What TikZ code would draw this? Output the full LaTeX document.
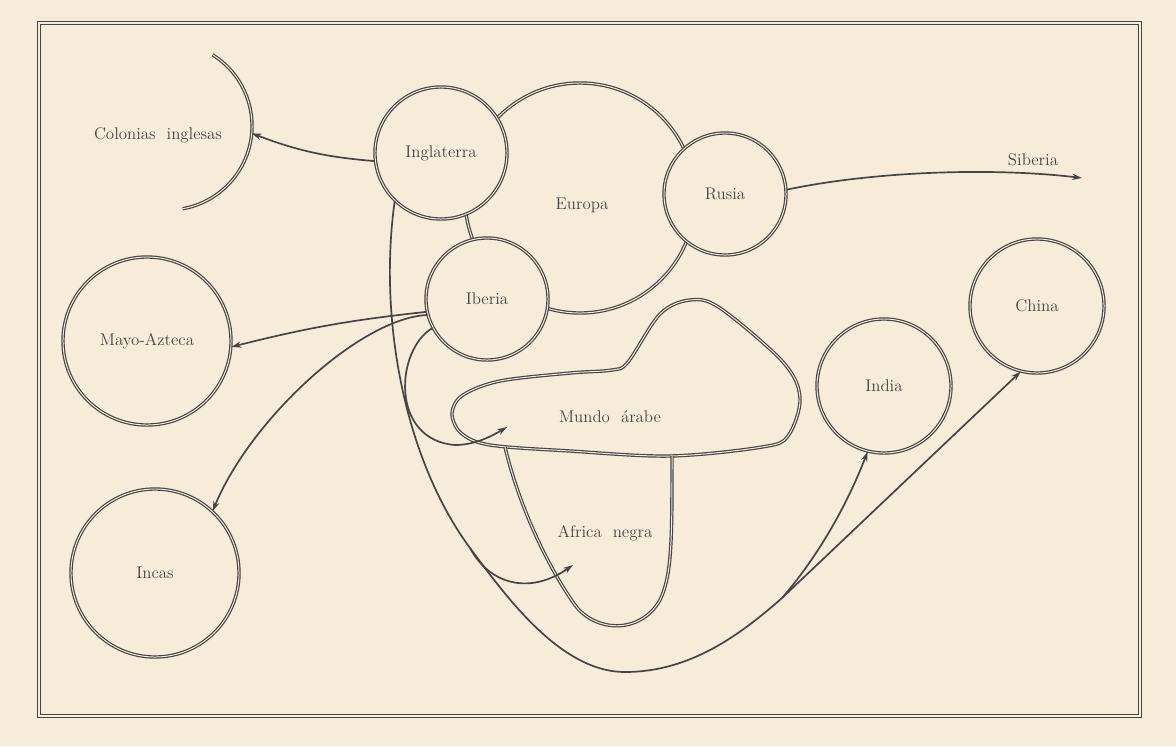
\documentclass[tikz,border=0pt]{standalone}
\usetikzlibrary{arrows.meta,calc}
\definecolor{paper}{HTML}{F7EBD9}
\definecolor{ink}{HTML}{454545}
\begin{document}
\begin{tikzpicture}[x=0.025cm,y=-0.025cm,
  dbl/.style={draw=ink, line width=0.85pt, double=paper, double distance=0.7pt},
  region/.style={dbl, circle, fill=paper, inner sep=0pt, font=\fontsize{12}{14}\selectfont, text=ink},
  conn/.style={draw=ink, line width=1.2pt},
  arr/.style={conn, -{Stealth[length=7pt,width=4.5pt]}},
  lbl/.style={font=\fontsize{12}{14}\selectfont, text=ink, inner sep=0pt}]
\fill[paper] (0,0) rectangle (1176,746);
\useasboundingbox (0,0) rectangle (1176,746);
% frame
\draw[draw=ink, line width=1.1pt, double=paper, double distance=1pt] (39,23) rectangle (1140,716);

% regions
\node[region, minimum size=5.75cm] (eur) at (580,198) {};
\node[lbl] (eurl) at (582,205) {Europa};
\node[region, minimum size=3.3cm] (ingl) at (441,153) {Inglaterra};
\node[region, minimum size=3.05cm] (rus) at (725,194) {Rusia};
\node[region, minimum size=3.05cm] (iber) at (487,299) {Iberia};
\node[region, minimum size=4.2cm] (maya) at (147,341) {Mayo-Azteca};
\node[region, minimum size=4.2cm] (inca) at (155,573) {Incas};
\node[region, minimum size=3.35cm] (india) at (884,386) {India};
\node[region, minimum size=3.35cm] (china) at (1037,306) {China};

% Colonias inglesas
\coordinate (col) at (168,126);
\draw[dbl] ([shift={(58:2.1cm)}]col) arc[start angle=58, end angle=-80, radius=2.1cm];
\coordinate (colEnd) at ([shift={(-5:2.1cm)}]col);
\node[lbl] (coll) at (158,135) {Colonias\ \ inglesas};

% Mundo arabe
\draw[dbl] plot[smooth cycle, tension=0.55] coordinates {(452,413) (463,395) (500,381) (570,373) (612,370) (628,362) (660,314) (690,300) (720,308) (783,362) (800,398) (788,436) (762,447) (670,456) (570,451) (490,445) (461,433)};
\node[lbl] (mundol) at (610,417) {Mundo\ \ árabe};
% Africa negra
\draw[dbl] (505,447) .. controls (520,510) and (550,570) .. (575,605) .. controls (595,632) and (640,635) .. (660,600) .. controls (672,575) and (672,540) .. (672,456);
\node[lbl] (afrl) at (605,533) {Africa\ \ negra};

% connectors
\coordinate (sib) at (1082,178);
\node[lbl] (sibl) at (1033,160) {Siberia};
\coordinate (afrS) at (470,548);
\coordinate (afrTip) at (573,565);
\coordinate (mundoTip) at (507,427);
\coordinate (split) at (782,598);

\draw[arr] (ingl.187) to[bend left=8] (colEnd);
\draw[arr] (rus.4) .. controls (880,170) and (1000,168) .. (sib);
\draw[arr] (iber.192) to[bend right=4] (maya.356);
\draw[arr] (iber.195) .. controls (360,318) and (250,420) .. (inca.47);
\draw[arr] (iber.208) .. controls (395,350) and (390,440) .. (455,445) .. controls (475,445) and (492,436) .. (mundoTip);
\draw[conn] (ingl.226) .. controls (378,320) and (405,460) .. (afrS) .. controls (505,595) and (560,672) .. (625,672) .. controls (690,672) and (740,635) .. (split);
\draw[arr] (afrS) .. controls (490,585) and (530,595) .. (afrTip);
\draw[arr] (split) .. controls (815,560) and (845,510) .. (india.256);
\draw[arr] (split) -- (china.256);
\end{tikzpicture}
\end{document}
